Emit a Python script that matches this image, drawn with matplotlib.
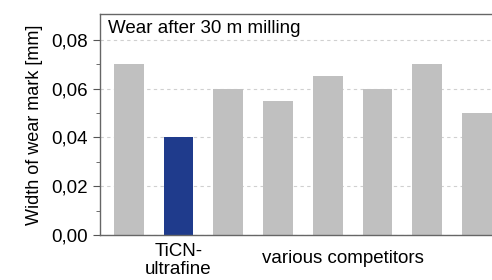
import numpy as np
import matplotlib
matplotlib.use('Agg')
import matplotlib.pyplot as plt

plt.rcParams['font.family'] = ['Liberation Sans', 'DejaVu Sans']

# data
wear = [0.070, 0.040, 0.060, 0.055, 0.065, 0.060, 0.070, 0.050]
highlight = 1
yticks = [0.00, 0.02, 0.04, 0.06, 0.08]
ytick_labels = ['0,00', '0,02', '0,04', '0,06', '0,08']
grey = '#c0c0c0'
blue = '#1f3b8c'


def main():
    fig = plt.figure(figsize=(4.92, 2.8), dpi=100)
    ax = fig.add_axes([0.203, 0.16, 0.797, 0.79])

    x = np.arange(len(wear))
    colors = [blue if i == highlight else grey for i in x]
    ax.bar(x, wear, width=0.6, color=colors, zorder=2)

    ax.set_xlim(-0.58, 7.3)
    ax.set_ylim(0, 0.0905)
    ax.set_yticks(yticks)
    ax.set_yticklabels(ytick_labels, fontsize=13.5)
    ax.set_yticks([0.01, 0.03, 0.05, 0.07], minor=True)
    ax.tick_params(axis='y', which='major', length=5, color='#555555')
    ax.tick_params(axis='y', which='minor', length=3, color='#555555')
    ax.set_xticks([])
    ax.grid(axis='y', linestyle=(0, (3, 3)), color='#d0d0d0', linewidth=0.8, zorder=0)

    ax.spines['right'].set_visible(False)
    for s in ['left', 'top', 'bottom']:
        ax.spines[s].set_color('#666666')
        ax.spines[s].set_linewidth(1.0)

    ax.set_ylabel('Width of wear mark [mm]', fontsize=13, labelpad=6)
    ax.text(0.02, 0.975, 'Wear after 30 m milling', transform=ax.transAxes,
            ha='left', va='top', fontsize=13.5)

    ax.text(highlight, -0.0032, 'TiCN-\nultrafine', ha='center', va='top',
            fontsize=13.5, linespacing=1.08)
    ax.text(4.3, -0.0062, 'various competitors', ha='center', va='top',
            fontsize=13.5)

    fig.savefig('out.png', dpi=100)


if __name__ == "__main__":
    main()
